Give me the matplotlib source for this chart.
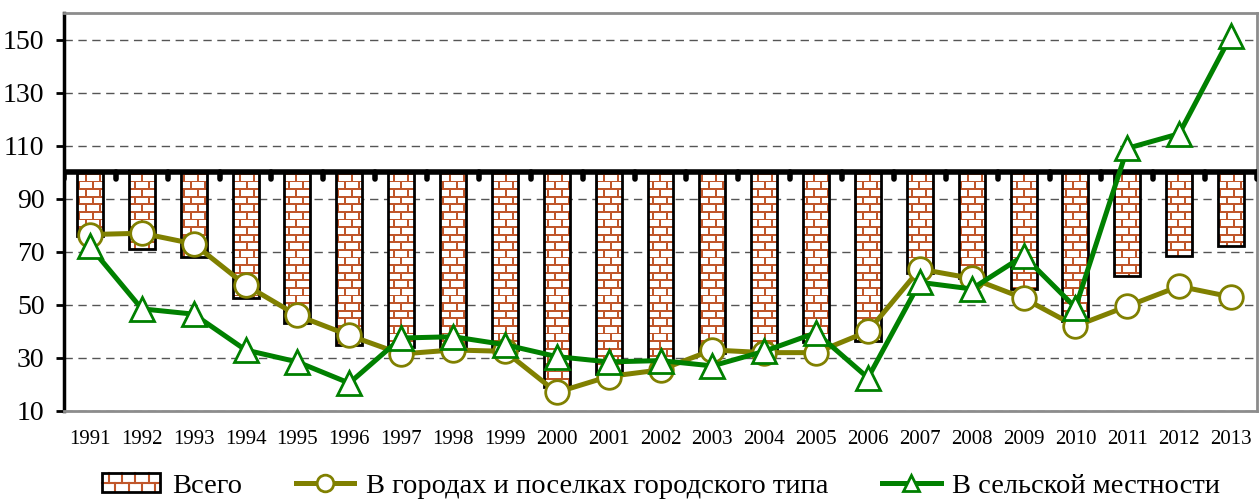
import matplotlib
matplotlib.use("Agg")
import matplotlib.pyplot as plt
import numpy as np
from matplotlib.patches import Rectangle, PathPatch
from matplotlib.path import Path
from matplotlib.lines import Line2D
from matplotlib.legend_handler import HandlerBase

plt.rcParams['font.family'] = ['Liberation Serif', 'DejaVu Serif']

years = [str(y) for y in range(1991, 2014)]
total = [76, 71, 68, 52.5, 43, 35, 34, 34, 33, 19, 24, 29, 32, 32, 36, 36.5,
         62, 60, 56, 44, 61, 68.5, 72]
cities = [76.5, 77, 73, 57.5, 46, 38.5, 31.5, 33, 32.5, 17, 23, 25.5, 33, 32,
          32, 40, 63.5, 60, 52.5, 42, 49.5, 57, 53]
rural = [72, 48.5, 46.5, 33, 28.5, 20.5, 37.5, 38, 35, 30.5, 28.5, 29, 27,
         32.5, 39.5, 22.5, 58.5, 56, 68.5, 49, 109, 114.5, 151.5]
base = 100
labels = ["Всего", "В городах и поселках городского типа", "В сельской местности"]

brick = '#C0562A'
olive = '#808000'
green = '#008000'

fig = plt.figure(figsize=(12.6, 4.99), dpi=100)
ax = fig.add_axes([64 / 1260, 1 - 411 / 499, 1193 / 1260, 398 / 499])

x = np.arange(len(years))
ax.set_xlim(-0.5, len(years) - 0.5)
ax.set_ylim(10, 160)

# bars hang down from the 100 baseline
bars = ax.bar(x, np.array(total) - base, bottom=base, width=0.5,
              facecolor='none', edgecolor='black', linewidth=2, zorder=3)

# brick texture, clipped to the bars
bb = ax.get_window_extent()
W, H = int(round(bb.width)), int(round(bb.height))
yy, xx = np.mgrid[0:H, 0:W]
row_h, brick_w, mort = 7.6, 14.0, 1.7
row = np.floor(yy / row_h)
hmask = (yy % row_h) < mort
vmask = ((xx - (row % 2) * brick_w / 2) % brick_w) < mort
mask = hmask | vmask
tex = np.ones((H, W, 3))
tex[mask] = matplotlib.colors.to_rgb(brick)
im = ax.imshow(tex, extent=(-0.5, len(years) - 0.5, 10, 160), aspect='auto',
               interpolation='nearest', zorder=2, origin='upper')
paths = [p.get_path().transformed(p.get_patch_transform()) for p in bars]
clip = PathPatch(Path.make_compound_path(*paths), transform=ax.transData,
                 facecolor='none', edgecolor='none')
im.set_clip_path(clip)
ax.set_xlim(-0.5, len(years) - 0.5)
ax.set_ylim(10, 160)

# baseline at 100 with small category ticks
ax.axhline(base, color='black', linewidth=4, zorder=4)
bounds = np.arange(-0.5, len(years), 1.0)
ax.vlines(bounds, base - 2.6, base, colors='black', linewidth=4,
          capstyle='round', zorder=4)

ax.plot(x, cities, color=olive, linewidth=3.6, marker='o', markersize=17,
        markerfacecolor='white', markeredgecolor=olive, markeredgewidth=2,
        zorder=5)
ax.plot(x, rural, color=green, linewidth=3.6, marker='^', markersize=17,
        markerfacecolor='white', markeredgecolor=green, markeredgewidth=2,
        zorder=6)

ax.set_yticks(np.arange(10, 151, 20))
ax.yaxis.grid(True, color='#555555', linestyle=(0, (6, 4)), linewidth=1)
ax.set_axisbelow(True)
ax.set_xticks(x)
ax.set_xticklabels(years)
ax.tick_params(axis='x', length=0, pad=14, labelsize=15)
ax.tick_params(axis='y', length=6, width=2, pad=8, labelsize=20)

for s in ['top', 'right', 'bottom']:
    ax.spines[s].set_color('#8c8c8c')
    ax.spines[s].set_linewidth(2)
ax.spines['left'].set_color('black')
ax.spines['left'].set_linewidth(2.5)


class BrickHandler(HandlerBase):
    def create_artists(self, legend, orig_handle, xdescent, ydescent,
                       width, height, fontsize, trans):
        x0, y0 = -xdescent, -ydescent
        arts = [Rectangle((x0, y0), width, height, facecolor='white',
                          edgecolor='none', transform=trans)]
        arts.append(Line2D([x0, x0 + width], [y0 + height / 2] * 2,
                           color=brick, lw=1.5, transform=trans))
        bw = width / 4.4
        for k in range(5):
            xt = x0 + bw * (k + 0.5)
            if xt < x0 + width:
                arts.append(Line2D([xt, xt], [y0 + height / 2, y0 + height],
                                   color=brick, lw=1.5, transform=trans))
            xb = x0 + bw * (k + 1)
            if xb < x0 + width:
                arts.append(Line2D([xb, xb], [y0, y0 + height / 2],
                                   color=brick, lw=1.5, transform=trans))
        arts.append(Rectangle((x0, y0), width, height, facecolor='none',
                              edgecolor='black', lw=2, transform=trans))
        return arts


h_bar = Rectangle((0, 0), 1, 1)
h_city = Line2D([], [], color=olive, linewidth=3.6, marker='o', markersize=12,
                markerfacecolor='white', markeredgecolor=olive,
                markeredgewidth=2)
h_rural = Line2D([], [], color=green, linewidth=3.6, marker='^', markersize=12,
                 markerfacecolor='white', markeredgecolor=green,
                 markeredgewidth=2)
fig.legend([h_bar, h_city, h_rural], labels, loc='center',
           bbox_to_anchor=(661 / 1260, 1 - 486 / 499), ncol=3, frameon=False,
           fontsize=20.5, handlelength=2.05, handleheight=0.6,
           handletextpad=0.4, columnspacing=1.9,
           handler_map={Rectangle: BrickHandler()})

fig.savefig('out.png', dpi=100)
